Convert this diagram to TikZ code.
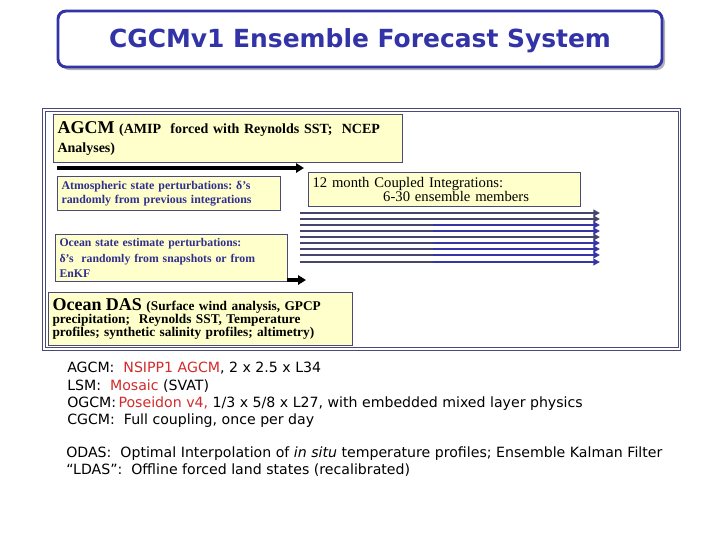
\documentclass[tikz,border=0pt]{standalone}
\usepackage{fontspec}
\setmainfont{Liberation Serif}
\newfontfamily\titlefont{DejaVu Sans}
\newfontfamily\notefont{DejaVu Sans}
\usetikzlibrary{arrows.meta}
\frenchspacing
\definecolor{titleblue}{HTML}{3333A8}
\definecolor{boxedge}{HTML}{4A4A78}
\definecolor{boxfill}{HTML}{FFFFCC}
\definecolor{darkline}{HTML}{45456E}
\definecolor{bluelin}{HTML}{3535A5}
\definecolor{textblue}{HTML}{2F2F8F}
\definecolor{namered}{HTML}{D42A2A}
\tikzset{
  yellowbox/.style={draw=boxedge, fill=boxfill, line width=0.8pt, anchor=north west, inner sep=3pt, align=left},
  fatarrow/.style={line width=2.4pt, -{Triangle[length=6pt,width=7pt]}},
  member/.style={line width=1.6pt},
  notes/.style={anchor=north west, align=left, inner sep=0pt, font=\notefont\fontsize{10.6}{13}\selectfont},
}
\begin{document}
\begin{tikzpicture}[x=0.75pt,y=0.75pt,yscale=-1,xscale=1]
        \useasboundingbox (0,0) rectangle (720,540);
        
        % Title
        \fill [gray!60, rounded corners=6pt] (61,14) rectangle (665,70);
        \draw [titleblue, fill=white, line width=2.2pt, rounded corners=6pt] (58,11) rectangle (662,67);
        \node (title) [font=\titlefont\bfseries\fontsize{18.7}{20}\selectfont, text=titleblue] at (360,41) {CGCMv1 Ensemble Forecast System};
        
        % Frame
        \draw [boxedge, line width=0.6pt] (42,108) rectangle (680,350);
        \draw [boxedge, line width=0.6pt] (45,111) rectangle (678,347);
        
        % AGCM box
        \node (agcm) [yellowbox, text width=255.75pt, minimum height=36pt, font=\bfseries\fontsize{10.5}{14}\selectfont] at (53,114)
          {{\fontsize{13.5}{14}\selectfont AGCM} (AMIP\ \ forced with Reynolds SST;\ \ NCEP\\ Analyses)};
        
        % Atmospheric perturbations
        \node (atmpert) [yellowbox, text width=161pt, minimum height=25.5pt, text=textblue, font=\bfseries\fontsize{8.9}{11}\selectfont] at (57,176)
          {Atmospheric state perturbations: δ’s\\ randomly from previous integrations};
        
        % Coupled integrations
        \node (coupled) [yellowbox, text width=198pt, minimum height=25.5pt, inner ysep=2pt, font=\fontsize{11}{9.5}\selectfont] at (308,172)
          {12 month Coupled Integrations:\\ \hspace*{53pt}6-30 ensemble members};
        
        % Ocean perturbations
        \node (ocnpert) [yellowbox, text width=168pt, minimum height=35.25pt, text=textblue, font=\bfseries\fontsize{8.8}{11.5}\selectfont] at (55,234)
          {Ocean state estimate perturbations:\\ δ’s\ \ randomly from snapshots or from\\ EnKF};
        
        % Ocean DAS box
        \node (ocndas) [yellowbox, text width=222pt, minimum height=39.75pt, inner ysep=2pt, font=\bfseries\fontsize{10}{9.5}\selectfont] at (48,292)
          {{\fontsize{13.5}{13}\selectfont Ocean DAS} (Surface wind analysis, GPCP\\ precipitation;\ \ Reynolds SST, Temperature\\ profiles; synthetic salinity profiles; altimetry)};
        
        % Arrows into the coupled run
        \coordinate (atmstart) at (57,168);
        \coordinate (atmend) at (304,168);
        \draw [fatarrow] (atmstart) -- (atmend);
        \coordinate (ocnstart) at (287,280);
        \coordinate (ocnend) at (306,280);
        \draw [fatarrow] (ocnstart) -- (ocnend);
        
        % Ensemble members
        \foreach \i/\yy/\col in {1/213/darkline, 2/219/darkline, 3/225/bluelin, 4/231/bluelin, 5/237/darkline, 6/243/bluelin, 7/249/bluelin, 8/255/bluelin, 9/262/bluelin} {
          \coordinate (m\i a) at (300,\yy);
          \coordinate (m\i b) at (433,\yy);
          \coordinate (m\i c) at (600,\yy);
          \draw [member, darkline] (m\i a) -- (m\i b);
          \draw [member, \col, -{Triangle[length=5pt,width=5pt]}] (m\i b) -- (m\i c);
        }
        
        % Model notes
        \node (models) [notes] at (67,362)
          {AGCM:\ \ {\color{namered}NSIPP1 AGCM}, 2 x 2.5 x L34\\
           LSM:\ \ {\color{namered}Mosaic} (SVAT)\\
           OGCM:\,{\color{namered}Poseidon v4,} 1/3 x 5/8 x L27, with embedded mixed layer physics\\
           CGCM:\ \ Full coupling, once per day};
        \node (assim) [notes] at (66,446)
          {ODAS:\ \ Optimal Interpolation of \textit{in situ} temperature profiles; Ensemble Kalman Filter\\
           “LDAS”:\ \ Offline forced land states (recalibrated)};
        
\end{tikzpicture}
\end{document}
